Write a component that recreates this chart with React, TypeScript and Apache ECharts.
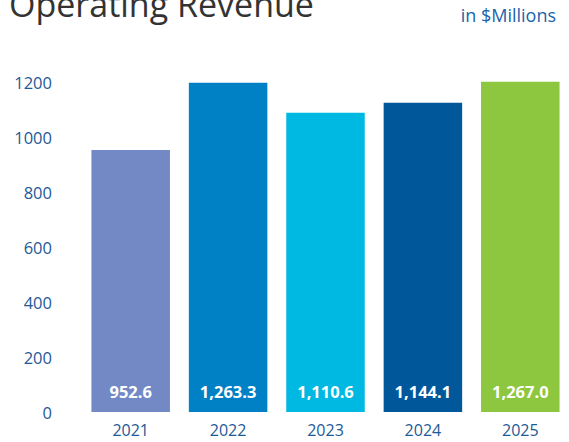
import React, { useEffect, useRef } from "react";
import * as echarts from "echarts";

const categories = ["2021", "2022", "2023", "2024", "2025"];
const barHeights = [953, 1197, 1088, 1125, 1201];
const valueLabels = ["952.6", "1,263.3", "1,110.6", "1,144.1", "1,267.0"];
const barColors = ["#7389C5", "#0081C6", "#00B9E2", "#00579A", "#8DC63F"];
const yTicks = [0, 200, 400, 600, 800, 1000, 1200];

const FONT = "'Open Sans', 'Noto Sans', sans-serif";

export default function App() {
  const ref = useRef<HTMLDivElement>(null);
  useEffect(() => {
    if (!ref.current) return;
    const chart = echarts.init(ref.current, null, { renderer: "svg" });
    chart.setOption({
      animation: false,
      backgroundColor: "#ffffff",
      grid: { left: 82, top: 82, width: 490, height: 330 },
      graphic: [
        {
          type: "text",
          left: 9,
          top: -13,
          style: {
            text: "Operating Revenue",
            fontSize: 34,
            fontFamily: FONT,
            fill: "#333333",
          },
        },
        {
          type: "text",
          right: 13,
          top: 6,
          style: {
            text: "in $Millions",
            fontSize: 18,
            fontFamily: FONT,
            fill: "#1a64ab",
          },
        },
      ],
      xAxis: {
        type: "category",
        data: categories,
        axisLine: { show: false },
        axisTick: { show: false },
        axisLabel: {
          color: "#1d5a96",
          fontSize: 16,
          fontFamily: FONT,
          margin: 10,
        },
      },
      yAxis: {
        type: "value",
        min: 0,
        max: 1200,
        interval: 200,
        splitLine: { show: false },
        axisLine: { show: false },
        axisTick: { show: false },
        axisLabel: {
          color: "#1d5a96",
          fontSize: 16.5,
          fontFamily: FONT,
          margin: 30,
          customValues: yTicks,
          formatter: (v: number) => String(v),
        },
      },
      series: [
        {
          type: "bar",
          clip: false,
          barCategoryGap: "19.4%",
          data: barHeights.map((v, i) => ({
            value: v,
            itemStyle: { color: barColors[i] },
          })),
          label: {
            show: true,
            position: "insideBottom",
            distance: 12,
            color: "#ffffff",
            fontSize: 16.5,
            fontWeight: "bold",
            fontFamily: FONT,
            formatter: (p: any) => valueLabels[p.dataIndex],
          },
        },
      ],
    });
    return () => chart.dispose();
  }, []);
  return (
    <div
      ref={ref}
      style={{ position: "absolute", left: 0, top: 0, width: 569, height: 442 }}
    />
  );
}
